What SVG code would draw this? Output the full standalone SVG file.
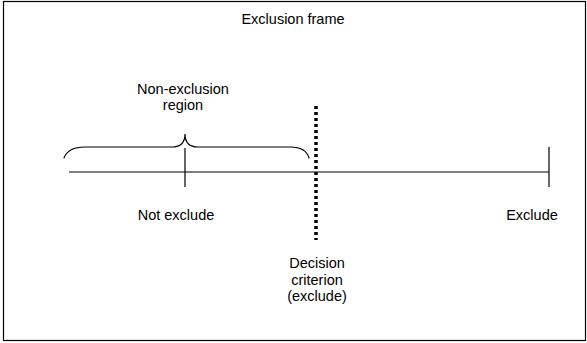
<svg xmlns="http://www.w3.org/2000/svg" width="587" height="343" viewBox="0 0 587 343">
<style>
text{font-family:"Liberation Sans",Arial,sans-serif;font-size:14.5px;fill:#000;text-anchor:middle}
.ln{stroke:#000;stroke-width:1.2;fill:none}
</style>
<rect width="587" height="343" fill="#fff"/>
<g id="frame">
<rect x="3.5" y="1.5" width="582" height="339" fill="none" stroke="#000" stroke-width="1.2"/>
<text x="293" y="24">Exclusion frame</text>
</g>
<g id="connectors">
<line class="ln" x1="69" y1="172" x2="549" y2="172"/>
<line class="ln" x1="185" y1="148" x2="185" y2="187"/>
<line class="ln" x1="549" y1="147" x2="549" y2="187"/>
<line x1="316" y1="106" x2="316" y2="240" stroke="#000" stroke-width="3.5" stroke-dasharray="3,3"/>
<path class="ln" stroke-width="2.8" stroke-linecap="round" d="M64 158 Q68 147 85 147 L172 147 Q185 147 185 134 Q185 147 198 147 L290 147 Q306 147 309 158"/>
</g>
<g id="non-exclusion">
<text x="183" y="94">Non-exclusion</text>
<text x="183" y="110">region</text>
</g>
<g id="not-exclude"><text x="176" y="220">Not exclude</text></g>
<g id="exclude"><text x="532" y="220">Exclude</text></g>
<g id="decision">
<text x="317" y="268">Decision</text>
<text x="317" y="284.5">criterion</text>
<text x="317" y="301">(exclude)</text>
</g>
</svg>
